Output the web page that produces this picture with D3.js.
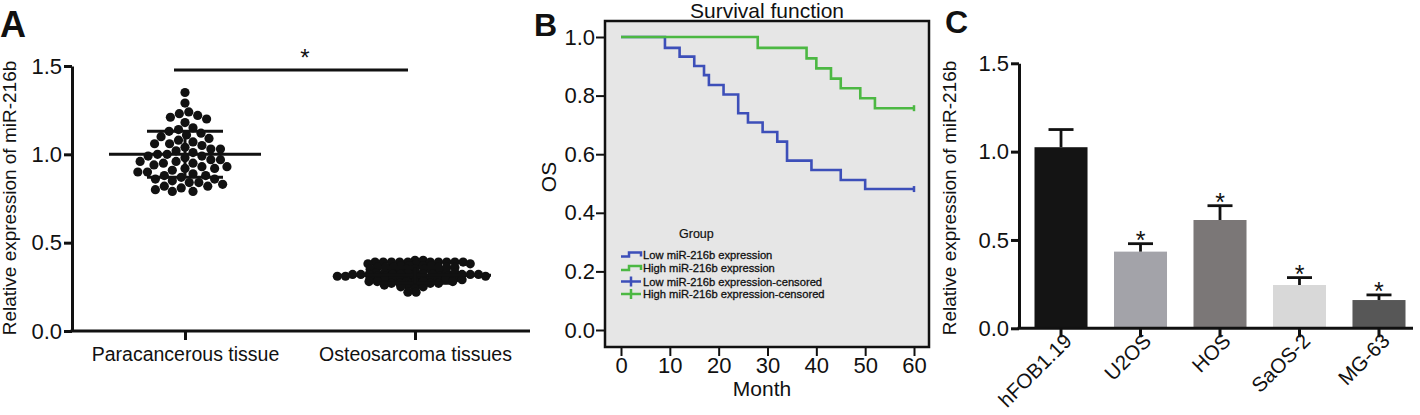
<!DOCTYPE html>
<html>
<head>
<meta charset="utf-8">
<script src="https://cdn.jsdelivr.net/npm/d3@7"></script>
<style>
html,body{margin:0;padding:0;background:#fff;}
svg{display:block;font-family:"Liberation Sans",Arial,Helvetica,sans-serif;}
</style>
</head>
<body>
<svg id="chart" width="1420" height="415"></svg>
<script>
// ---------- Panel A data ----------
const groupsA = ["Paracancerous tissue", "Osteosarcoma tissues"];
const paraValues = [1.35,1.29,1.24,1.23,1.22,1.21,1.20,1.18,1.15,1.14,1.13,1.12,1.11,1.10,1.09,1.08,1.07,1.06,1.06,1.05,
  1.04,1.03,1.03,1.02,1.01,1.00,1.00,0.99,0.99,0.98,0.97,0.97,0.96,0.96,0.95,0.95,0.94,0.93,0.93,0.92,
  0.92,0.91,0.90,0.90,0.89,0.88,0.88,0.87,0.86,0.86,0.85,0.84,0.84,0.83,0.82,0.82,0.81,0.80,0.79,0.79];
const osteoValues = [0.40,0.40,0.39,0.39,0.39,0.39,0.39,0.39,0.39,0.39,0.39,0.39,0.38,0.38,0.38,0.37,0.37,0.37,0.37,
  0.36,0.36,0.36,0.36,0.36,0.36,0.35,0.35,0.35,0.35,0.34,0.34,0.34,0.34,0.33,0.33,0.33,0.33,0.33,0.33,
  0.32,0.32,0.32,0.32,0.32,0.32,0.32,0.32,0.32,0.32,0.31,0.31,0.31,0.31,0.31,0.31,0.31,0.31,
  0.30,0.30,0.30,0.30,0.30,0.30,0.29,0.29,0.29,0.29,0.29,0.28,0.28,0.28,0.28,0.28,0.28,
  0.27,0.27,0.27,0.27,0.26,0.26,0.26,0.25,0.25,0.24,0.22,0.22];
const meansA = [1.00, 0.315];
const sdsA = [0.13, 0.045];
const ticksA = [0, 0.5, 1.0, 1.5];

// ---------- Panel B data ----------
const lowTimes = [0, 9, 12, 15, 17, 18, 21, 24, 26, 29, 32, 34, 39, 45, 50, 60];
const lowSurv  = [1, 0.963, 0.933, 0.901, 0.870, 0.836, 0.804, 0.740, 0.708, 0.676, 0.643, 0.578, 0.546, 0.512, 0.481, 0.481];
const highTimes = [0, 28, 38, 40, 43, 45, 49, 52, 60];
const highSurv  = [1, 0.963, 0.927, 0.893, 0.858, 0.825, 0.791, 0.757, 0.757];
const ticksBx = [0, 10, 20, 30, 40, 50, 60];
const ticksBy = [0, 0.2, 0.4, 0.6, 0.8, 1.0];
const legendLabels = ["Low miR-216b expression", "High miR-216b expression",
  "Low miR-216b expression-censored", "High miR-216b expression-censored"];

// ---------- Panel C data ----------
const cells = ["hFOB1.19", "U2OS", "HOS", "SaOS-2", "MG-63"];
const cellValues = [1.025, 0.434, 0.613, 0.245, 0.160];
const cellErrors = [0.100, 0.045, 0.081, 0.042, 0.029];
const cellStars = [false, true, true, true, true];
const cellColors = ["#141414", "#a3a3a9", "#7b7777", "#d8d8d8", "#575757"];
const ticksC = [0, 0.5, 1.0, 1.5];

const svg = d3.select("#chart");
const fmt = d3.format(".1f");

function styleAxis(g, width, fontSize) {
  g.selectAll("path.domain").attr("stroke", "#111").attr("stroke-width", width);
  g.selectAll(".tick line").attr("stroke", "#111").attr("stroke-width", width);
  g.selectAll(".tick text").attr("fill", "#111").style("font-size", fontSize + "px")
    .style("font-family", "'Liberation Sans', Arial, sans-serif");
}

// beeswarm layout computed from values (k stretches vertical distance)
function swarm(values, yScale, cx, D, k) {
  const sorted = values.map(v => ({v, y: yScale(v)})).sort((a, b) => a.y - b.y);
  const placed = [];
  for (const d of sorted) {
    const near = placed.filter(p => Math.abs(p.y - d.y) * k < D);
    const cands = [0];
    for (const p of near) {
      const dy = (p.y - d.y) * k;
      const dx = Math.sqrt(D * D - dy * dy);
      cands.push(p.x + dx, p.x - dx);
    }
    cands.sort((a, b) => Math.abs(a) - Math.abs(b));
    for (const c of cands) {
      if (near.every(p => (p.x - c) ** 2 + ((p.y - d.y) * k) ** 2 >= D * D - 1e-6)) { d.x = c; break; }
    }
    placed.push(d);
  }
  return placed.map(d => ({v: d.v, y: d.y, x: cx + d.x}));
}

// ================= Panel A =================
{
  const g = svg.append("g");
  const y = d3.scaleLinear().domain([0, 1.5]).range([331, 66]);
  const x = d3.scalePoint().domain(groupsA).range([72, 528]).padding(0.4913);

  const ya = g.append("g").attr("transform", "translate(72,0)")
    .call(d3.axisLeft(y).tickValues(ticksA).tickFormat(fmt).tickSize(8).tickSizeOuter(0).tickPadding(2));
  styleAxis(ya, 3, 22);
  const xa = g.append("g").attr("transform", "translate(0,331)")
    .call(d3.axisBottom(x).tickSize(9).tickSizeOuter(0).tickPadding(7));
  styleAxis(xa, 3, 19.5);
  xa.select("path.domain").attr("d", "M70.5,0H530");

  g.append("text").attr("transform", "translate(15.5,198) rotate(-90)")
    .attr("text-anchor", "middle").style("font-size", "19px").attr("fill", "#111")
    .text("Relative expression of miR-216b");

  const series = [paraValues, osteoValues];
  const Ds = [9.6, 8.2], ks = [1.0, 2.3];
  series.forEach((vals, i) => {
    const cx = x(groupsA[i]);
    const pts = swarm(vals, y, cx, Ds[i], ks[i]);
    g.append("g").selectAll("circle").data(pts).join("circle")
      .attr("cx", d => d.x).attr("cy", d => d.y).attr("r", 4.6).attr("fill", "#111");
    const m = meansA[i], s = sdsA[i];
    const lg = g.append("g").attr("stroke", "#111").attr("stroke-width", 3);
    lg.append("line").attr("x1", cx - 76).attr("x2", cx + 76).attr("y1", y(m)).attr("y2", y(m));
    lg.append("line").attr("x1", cx - 38).attr("x2", cx + 38).attr("y1", y(m + s)).attr("y2", y(m + s));
    lg.append("line").attr("x1", cx - 38).attr("x2", cx + 38).attr("y1", y(m - s)).attr("y2", y(m - s));
    lg.append("line").attr("x1", cx).attr("x2", cx).attr("y1", y(m + s)).attr("y2", y(m - s));
  });

  g.append("line").attr("x1", 174).attr("x2", 408).attr("y1", 70).attr("y2", 70)
    .attr("stroke", "#111").attr("stroke-width", 3);
  g.append("text").attr("x", 305).attr("y", 66).attr("text-anchor", "middle")
    .style("font-size", "24px").attr("fill", "#111").text("*");

  g.append("text").attr("x", 0).attr("y", 37).style("font-size", "36px").style("font-weight", "bold")
    .attr("fill", "#111").text("A");
}

// ================= Panel B =================
{
  const g = svg.append("g");
  const x = d3.scaleLinear().domain([0, 60]).range([621, 914]);
  const y = d3.scaleLinear().domain([0, 1]).range([330, 37]);

  g.append("rect").attr("x", 605).attr("y", 21).attr("width", 324).attr("height", 326)
    .attr("fill", "#e6e6e6").attr("stroke", "#111").attr("stroke-width", 2.5);

  const ya = g.append("g").attr("transform", "translate(604,0)")
    .call(d3.axisLeft(y).tickValues(ticksBy).tickFormat(fmt).tickSize(8).tickPadding(1));
  ya.select("path.domain").remove();
  styleAxis(ya, 2, 22);
  const xa = g.append("g").attr("transform", "translate(0,348)")
    .call(d3.axisBottom(x).tickValues(ticksBx).tickFormat(d3.format("d")).tickSize(8).tickPadding(1));
  xa.select("path.domain").remove();
  styleAxis(xa, 2, 22);

  const line = d3.line().x(d => x(d[0])).y(d => y(d[1])).curve(d3.curveStepAfter);
  const lowPts = lowTimes.map((t, i) => [t, lowSurv[i]]);
  const highPts = highTimes.map((t, i) => [t, highSurv[i]]);
  const blue = "#3d4fb9", green = "#4cb843";
  g.append("path").attr("d", line(lowPts)).attr("fill", "none").attr("stroke", blue).attr("stroke-width", 2.6);
  g.append("path").attr("d", line(highPts)).attr("fill", "none").attr("stroke", green).attr("stroke-width", 2.6);
  [[lowPts[lowPts.length - 1], blue], [highPts[highPts.length - 1], green]].forEach(([p, c]) => {
    g.append("line").attr("x1", x(p[0])).attr("x2", x(p[0])).attr("y1", y(p[1]) - 3).attr("y2", y(p[1]) + 3)
      .attr("stroke", c).attr("stroke-width", 2.5);
  });

  g.append("text").attr("x", 767).attr("y", 18).attr("text-anchor", "middle")
    .style("font-size", "21px").attr("fill", "#111").text("Survival function");
  g.append("text").attr("x", 762).attr("y", 396).attr("text-anchor", "middle")
    .style("font-size", "21px").attr("fill", "#111").text("Month");
  g.append("text").attr("transform", "translate(556,177) rotate(-90)").attr("text-anchor", "middle")
    .style("font-size", "21px").attr("fill", "#111").text("OS");

  // legend
  g.append("text").attr("x", 679).attr("y", 238).style("font-size", "12.5px").attr("fill", "#111")
    .attr("stroke", "#111").attr("stroke-width", 0.2).text("Group");
  const rows = [254.5, 268, 281.5, 294];
  const cols = [blue, green, blue, green];
  legendLabels.forEach((lab, i) => {
    const cy = rows[i];
    if (i < 2) {
      g.append("path").attr("d", `M621,${cy + 2}H629V${cy - 2}H641V${cy + 2}`)
        .attr("fill", "none").attr("stroke", cols[i]).attr("stroke-width", 2.5);
    } else {
      g.append("line").attr("x1", 621).attr("x2", 641).attr("y1", cy).attr("y2", cy)
        .attr("stroke", cols[i]).attr("stroke-width", 2.5);
      g.append("line").attr("x1", 631).attr("x2", 631).attr("y1", cy - 5).attr("y2", cy + 5)
        .attr("stroke", cols[i]).attr("stroke-width", 2.5);
    }
    g.append("text").attr("x", 643).attr("y", cy + 4).style("font-size", "11.2px")
      .attr("fill", "#111").attr("stroke", "#111").attr("stroke-width", 0.3).text(lab);
  });

  g.append("text").attr("x", 534).attr("y", 36).style("font-size", "32px").style("font-weight", "bold")
    .attr("fill", "#111").text("B");
}

// ================= Panel C =================
{
  const g = svg.append("g");
  const y = d3.scaleLinear().domain([0, 1.5]).range([328.3, 63.3]);
  const x = d3.scaleBand().domain(cells).range([1019, 1421]).paddingInner(0.333).paddingOuter(0.195);

  g.append("g").selectAll("rect").data(cells).join("rect")
    .attr("x", d => x(d)).attr("width", x.bandwidth())
    .attr("y", (d, i) => y(cellValues[i])).attr("height", (d, i) => y(0) - y(cellValues[i]))
    .attr("fill", (d, i) => cellColors[i]);

  const eb = g.append("g").attr("stroke", "#111").attr("stroke-width", 2.8);
  cells.forEach((c, i) => {
    const cx = x(c) + x.bandwidth() / 2;
    const top = y(cellValues[i] + cellErrors[i]);
    eb.append("line").attr("x1", cx).attr("x2", cx).attr("y1", y(cellValues[i])).attr("y2", top);
    eb.append("line").attr("x1", cx - 12.5).attr("x2", cx + 12.5).attr("y1", top).attr("y2", top);
    if (cellStars[i]) {
      g.append("text").attr("x", cx).attr("y", top + 5).attr("text-anchor", "middle")
        .style("font-size", "25px").attr("fill", "#111").text("*");
    }
  });

  const ya = g.append("g").attr("transform", "translate(1019,0)")
    .call(d3.axisLeft(y).tickValues(ticksC).tickFormat(fmt).tickSize(8).tickSizeOuter(0).tickPadding(2));
  styleAxis(ya, 3, 22);
  const xa = g.append("g").attr("transform", "translate(0,328.3)")
    .call(d3.axisBottom(x).tickSize(9).tickSizeOuter(0).tickPadding(4));
  styleAxis(xa, 3, 20.5);
  xa.select("path.domain").attr("d", "M1017.5,0H1413");
  xa.selectAll(".tick text").attr("text-anchor", "end").attr("dy", null)
    .attr("transform", "translate(12,14) rotate(-45)").attr("y", 0).attr("x", 0);

  g.append("text").attr("transform", "translate(955.5,198) rotate(-90)")
    .attr("text-anchor", "middle").style("font-size", "19px").attr("fill", "#111")
    .text("Relative expression of miR-216b");

  g.append("text").attr("x", 945).attr("y", 33).style("font-size", "32px").style("font-weight", "bold")
    .attr("fill", "#111").text("C");
}
</script>
</body>
</html>
